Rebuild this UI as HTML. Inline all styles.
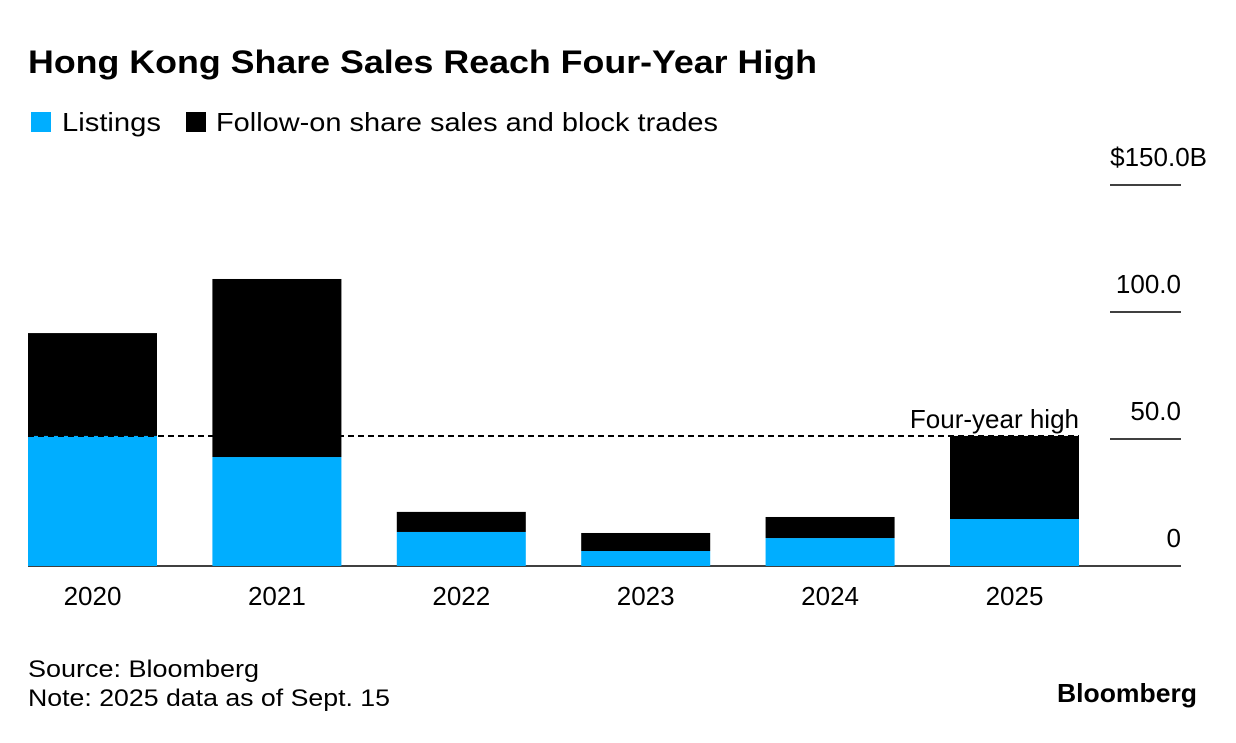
<!DOCTYPE html>
<html><head><meta charset="utf-8">
<style>
body{margin:0;width:1236px;height:738px;background:#fff;font-family:"Liberation Sans",Arial,sans-serif;overflow:hidden}
</style></head>
<body>
<svg width="1236" height="738" xmlns="http://www.w3.org/2000/svg" font-family="Liberation Sans, Arial, sans-serif">
<text x="28" y="73" font-size="32" font-weight="bold" fill="#000" textLength="789" lengthAdjust="spacingAndGlyphs">Hong Kong Share Sales Reach Four-Year High</text>
<g>
<rect x="31" y="112" width="20" height="20" fill="#00aeff"/>
<text x="62" y="131" font-size="26" textLength="99" lengthAdjust="spacingAndGlyphs">Listings</text>
<rect x="186" y="112" width="20" height="20" fill="#000"/>
<text x="216" y="131" font-size="26" textLength="502" lengthAdjust="spacingAndGlyphs">Follow-on share sales and block trades</text>
</g>
<g id="chart"></g>
<text x="28" y="677" font-size="24" textLength="231" lengthAdjust="spacingAndGlyphs">Source: Bloomberg</text>
<text x="28" y="706" font-size="24" textLength="362" lengthAdjust="spacingAndGlyphs">Note: 2025 data as of Sept. 15</text>
<text x="1057" y="702" font-size="26" font-weight="bold" textLength="140" lengthAdjust="spacingAndGlyphs">Bloomberg</text>
</svg>
<script>
const categories=["2020","2021","2022","2023","2024","2025"];
const listings=[51.2,42.9,13.4,5.9,11,18.5];
const followOn=[40.5,70.1,7.9,7.1,8.3,32.7];
const ticks=[0,50,100,150];
const tickLabels=["0","50.0","100.0","$150.0B"];
const highValue=51.2;
const NS="http://www.w3.org/2000/svg";
const g=document.getElementById("chart");
const y=v=>566-v*2.54;
const x=i=>28+i*184.4;
const bw=129;
function mk(t,a){const e=document.createElementNS(NS,t);for(const k in a)e.setAttribute(k,a[k]);g.appendChild(e);return e;}
ticks.forEach((t,i)=>{
 const l=mk("line",{x1:i===0?28:1110,x2:1181,y1:y(t),y2:y(t),stroke:"#000","stroke-width":1.5});
 
 
 const lab=tickLabels[i];
 const hasB=lab.endsWith("B");
 const tx=mk("text",{x:hasB?1207:1181,y:y(t)-19,"font-size":26,"text-anchor":"end"});
 tx.textContent=lab;
 
 
});
categories.forEach((c,i)=>{
 const b1=mk("rect",{x:x(i),y:y(listings[i]),width:bw,height:566-y(listings[i]),fill:"#00aeff"});
 
 
 const tot=listings[i]+followOn[i];
 const b2=mk("rect",{x:x(i),y:y(tot),width:bw,height:y(listings[i])-y(tot),fill:"#000"});
 
 
 const t=mk("text",{x:x(i)+bw/2,y:605,"font-size":26,"text-anchor":"middle"});
 t.textContent=c;
 
 
});
const dl=mk("line",{x1:28,x2:x(5)+bw,y1:y(highValue),y2:y(highValue),stroke:"#000","stroke-width":2,"stroke-dasharray":"6,4"});


const al=mk("text",{x:x(5)+bw,y:y(highValue)-8,"font-size":26,"text-anchor":"end"});
al.textContent="Four-year high";


</script>
</body></html>
